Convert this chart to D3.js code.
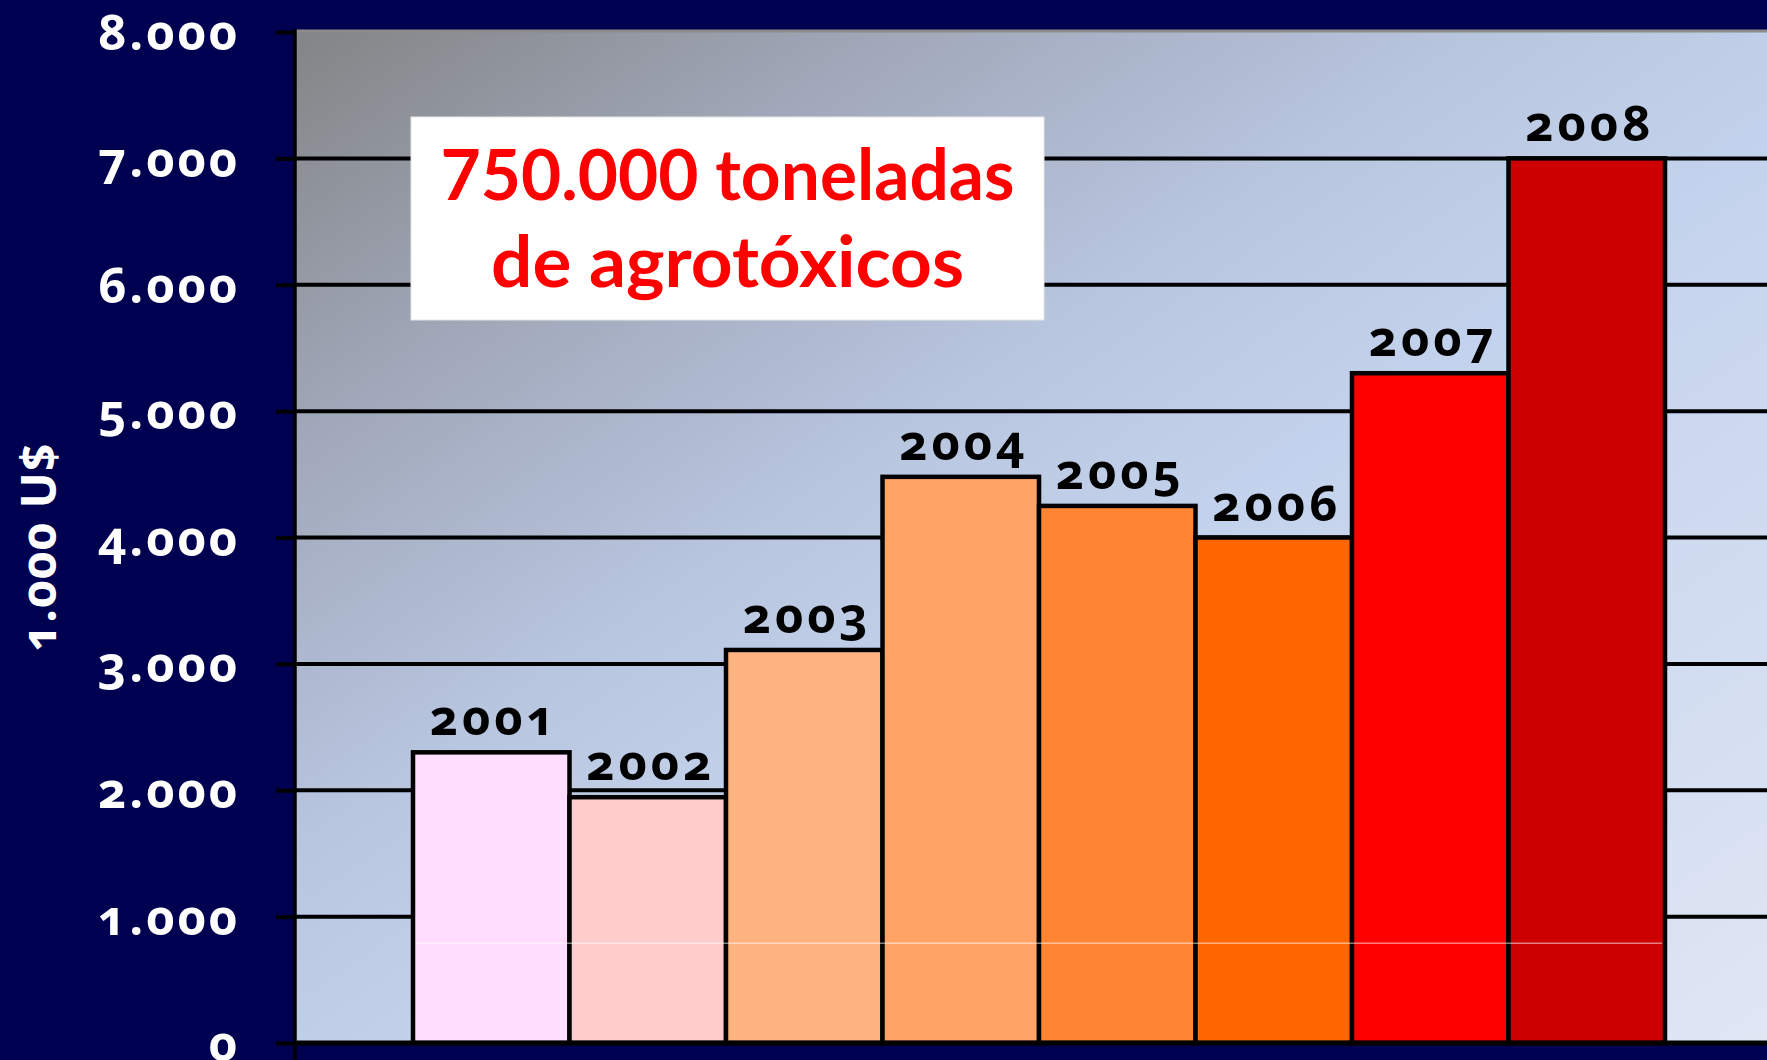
<!DOCTYPE html>
<html><head><meta charset="utf-8">
<script src="https://cdn.jsdelivr.net/npm/d3@7"></script>
<style>
html,body{margin:0;padding:0;background:#000050;overflow:hidden}
svg{display:block}
.num{font-family:"Open Sans","Noto Sans",sans-serif;font-weight:700;font-variant-numeric:oldstyle-nums;font-feature-settings:"onum" 1;}
</style></head><body>
<svg id="c" width="1767" height="1060"></svg>
<script>
// ---- data ----
const years = ["2001","2002","2003","2004","2005","2006","2007","2008"];
const values = [2300,1945,3110,4480,4250,4000,5300,7000];
const barColors = ["#FFDDFF","#FFCCCC","#FFB380","#FFA366","#FF8533","#FF6600","#FF0000","#CC0000"];
const yTicks = [0,1000,2000,3000,4000,5000,6000,7000,8000];
const yTickLabels = ["0","1.000","2.000","3.000","4.000","5.000","6.000","7.000","8.000"];
const yTitle = "1.000 U$";
const noteLines = ["750.000 toneladas","de agrotóxicos"];

// ---- layout ----
const W = 1767, H = 1060;
const plotL = 296, plotR = W, plotT = 31, plotB = 1043;
const svg = d3.select("#c");

const x = d3.scaleBand().domain(years).range([413,1665]).paddingInner(0).paddingOuter(0);
const y = d3.scaleLinear().domain([0,8000]).range([plotB,32]);

const defs = svg.append("defs");
const g1 = defs.append("linearGradient").attr("id","bg").attr("x1",0).attr("y1",0).attr("x2",1).attr("y2",1);
[[0,"#838485"],[0.2,"#a0a7b8"],[0.4,"#b8c5df"],[0.56,"#c4d3ed"],[1,"#e0e6f4"]]
  .forEach(s=>g1.append("stop").attr("offset",s[0]).attr("stop-color",s[1]));

// background navy
svg.append("rect").attr("width",W).attr("height",H).attr("fill","#000050");
// plot area
svg.append("rect").attr("x",plotL).attr("y",plotT).attr("width",plotR-plotL).attr("height",plotB-plotT).attr("fill","url(#bg)");
// top border
svg.append("line").attr("x1",plotL).attr("x2",plotR).attr("y1",plotT).attr("y2",plotT)
  .attr("stroke","#8c8c8c").attr("stroke-width",3);

// gridlines
svg.append("g").selectAll("line").data(yTicks.filter(t=>t>0 && t<8000)).join("line")
  .attr("x1",plotL).attr("x2",plotR).attr("y1",d=>y(d)).attr("y2",d=>y(d))
  .attr("stroke","#000").attr("stroke-width",4);

// bars
svg.append("g").selectAll("rect").data(years).join("rect")
  .attr("x",d=>x(d)).attr("width",x.bandwidth())
  .attr("y",(d,i)=>y(values[i])).attr("height",(d,i)=>y(0)-y(values[i]))
  .attr("fill",(d,i)=>barColors[i]).attr("stroke","#000").attr("stroke-width",4.5);

// thin light artifact line across bars
svg.append("line").attr("x1",x.range()[0]+3).attr("x2",x.range()[1]-3)
  .attr("y1",y(790)).attr("y2",y(790)).attr("stroke","#ffffff").attr("stroke-opacity",0.75).attr("stroke-width",1);

// year labels
svg.append("g").selectAll("text").data(years).join("text")
  .attr("class","num")
  .attr("x",d=>x(d)+x.bandwidth()/2+3).attr("y",(d,i)=>y(values[i])-17)
  .attr("text-anchor","middle").attr("font-size",49).attr("letter-spacing",4)
  .attr("fill","#000").text(d=>d);

// y axis
const ax = svg.append("g").attr("transform",`translate(295,0)`)
  .call(d3.axisLeft(y).tickValues(yTicks).tickFormat((d,i)=>yTickLabels[i]).tickSize(19).tickSizeOuter(0).tickPadding(36));
ax.select(".domain").remove();
ax.selectAll(".tick line").attr("stroke","#000").attr("stroke-width",4);
ax.selectAll(".tick text").attr("class","num").attr("fill","#fff").attr("font-size",49)
  .attr("letter-spacing",3).attr("dy","0.36em");
svg.append("line").attr("x1",295).attr("x2",295).attr("y1",29).attr("y2",H)
  .attr("stroke","#000").attr("stroke-width",3.5);
// x axis line
svg.append("line").attr("x1",293).attr("x2",W).attr("y1",plotB).attr("y2",plotB)
  .attr("stroke","#000").attr("stroke-width",5);

// y title
svg.append("text").attr("class","num")
  .attr("transform","translate(56,547) rotate(-90)")
  .attr("text-anchor","middle").attr("font-size",48).attr("letter-spacing",1)
  .attr("fill","#fff").text(yTitle);

// note box
const nb = svg.append("g");
nb.append("rect").attr("x",411).attr("y",117).attr("width",633).attr("height",203)
  .attr("fill","#fff").attr("stroke","#e6e6e6").attr("stroke-width",1);
const cx = 411+633/2;
const noteWidths = [574, 473];
const noteBase = [200, 287];
nb.selectAll("text").data(noteLines).join("text")
  .attr("x",cx).attr("y",(d,i)=>noteBase[i]).attr("text-anchor","middle")
  .attr("font-family","Lato, 'Open Sans', sans-serif").attr("font-weight",700).attr("fill","#ff0000")
  .attr("font-size",70).attr("textLength",(d,i)=>noteWidths[i]).attr("lengthAdjust","spacingAndGlyphs")
  .text(d=>d);
</script>
</body></html>
